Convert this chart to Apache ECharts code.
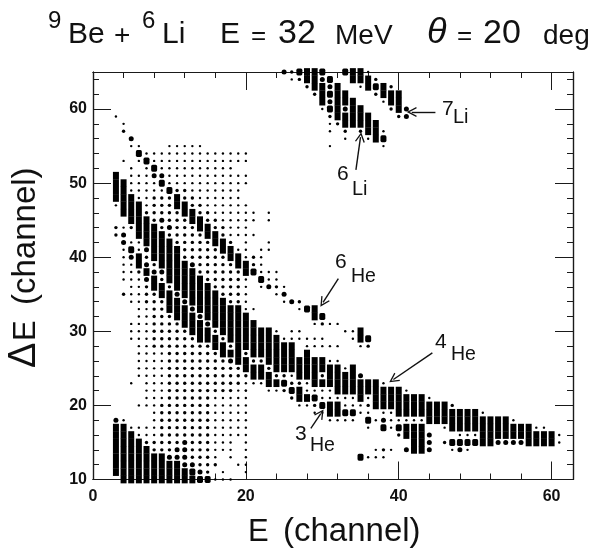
<!DOCTYPE html>
<html><head><meta charset="utf-8">
<style>html,body{margin:0;padding:0;background:#fff}#c{width:593px;height:551px}</style>
<script src="https://cdn.jsdelivr.net/npm/echarts@6/dist/echarts.min.js"></script>
</head><body><div id="c"></div>
<script>
// Channel columns (E) and, for each, runs of cells "topΔE:codes" reading downward.
// Code = count class: 1 tiny … 5 full cell.
const channelE = [3,4,5,6,7,8,9,10,11,12,13,14,15,16,17,18,19,20,21,22,23,24,25,26,27,28,29,30,31,32,33,34,35,36,37,38,39,40,41,42,43,44,45,46,47,48,49,50,51,52,53,54,55,56,57,58,59,60,61];
const cellRuns = [
"59:1 51:5555 47:1 44:22 18:3 17:5555555",
"58:1 57:2 53:1 50:55555 44:1 43:33 41:1 40:1 39:1 38:11 35:2 18:1 17:55555555",
"56:3 55:1 52:1111 48:5555 44:2 42:1 41:43 39:111111 31:111 23:1 17:1 16:5555555",
"55:1 54:4 53:1 51:111 48:1 47:55555 42:11 40:55 38:2 37:11111111111111 20:1 17:11 15:555555",
"54:1 53:4 52:1111112 45:5555 41:323 38:5 37:3 36:222 33:11111111111111 17:112 14:55555",
"54:11 52:43 50:112222 44:55555 39:23 37:55 35:22 33:222222 27:111111111 18:11122 13:5555",
"54:11 52:1 51:34 49:1 48:2223 44:2 43:55555 38:32 36:55 34:2222222 27:1111111 20:2222222 13:5555",
"55:1 54:111 51:1 50:1 49:4 48:222 45:232 42:555555 36:2 35:555 32:2222 28:222222222 19:222222 13:3 12:555",
"55:1 54:111112 48:55 46:22222 41:555555 35:3 34:555 31:222222222222 19:222223 13:3 12:555",
"55:1 54:1111122 47:55 45:222222 39:55555 34:3 33:555 30:2222222222 20:22222333 12:3 11:55",
"55:1 54:11111122 46:55 44:222223 38:55555 33:3 32:555 29:222222222 20:222222223 11:4 10:5",
"55:1 54:111111122 45:55 43:222222 37:55555 32:3 31:555 28:22222222 20:222222222 11:3 10:4",
"54:1111111122 44:55 42:222222 36:55555 31:3 30:55 28:2222222 21:2222222222 11:2 10:4",
"54:11111111122 43:55 41:222222 35:55555 30:2 29:55 27:222222 21:111111111 12:2 10:1",
"54:111111111122 42:55 40:222222 34:55555 29:2 28:55 26:22222 21:11111111 11:1 10:1",
"54:1111111111112 41:55 39:222222 33:55555 28:2 27:5 26:3 25:2222 21:111111111 10:1",
"54:11 51:1111111 44:11 41:1 40:55 38:22222 33:555555 27:55 25:222 22:1111111 12:1",
"54:11 51:11 47:1 46:11 44:11111 39:55 37:1111 33:1 32:55555 27:2 26:55 24:2 23:11 22:1111111111 12:1 11:1",
"46:11 43:1 40:22 38:4 33:1 31:55555 26:2 25:55 23:1",
"41:1 40:11 38:1 37:4 36:1 30:5555 26:2 25:55 23:1",
"46:11 42:1 41:1 38:1 37:1 36:3 30:55555 25:2 24:55 22:1",
"38:1 37:1 36:2 35:1 30:1 29:55555 24:2 23:5 22:1",
"65:3 36:1 35:3 34:1 29:1 28:5555 24:2 23:4 22:2",
"65:2 64:1 34:3 30:1 29:1 28:5555 24:1 23:2 22:4 21:2",
"65:4 64:2 34:2 33:1 30:1 29:1 26:555 23:2 22:55 20:1",
"65:55 63:2 33:4 29:1 28:1 27:5555 23:1 22:1 21:5 20:1",
"65:555 62:2 33:55 31:1 29:1 28:1 26:5555 22:1 21:4 20:2 19:1",
"65:4 64:3 63:555 60:1 32:4 31:2 29:1 28:1 26:55 24:2 23:5 22:1 21:1 20:4 19:1",
"64:4 63:3 62:4 61:3 60:4 59:2 58:1 57:1 55:1 31:1 28:1 26:1 25:555 22:1 21:1 20:55 18:1",
"63:55555 58:2 31:1 28:1 26:1 25:5555 21:1 20:55 18:1",
"65:4 62:55 60:3 59:55 57:2 56:1 30:1 25:1 24:555 21:1 20:1 19:4 18:1",
"65:55 61:5555 30:1 29:1 25:5555 21:1 20:1 19:4 18:1",
"65:55 63:1 60:555 57:2 30:55 28:1 24:3 23:555 20:1 19:1 13:4",
"65:1 64:55 59:555 56:1 29:4 28:2 23:55 21:1 20:2 19:1 18:4 17:1 13:1",
"64:2 63:4 62:2 58:555 23:5555 18:1 14:1 13:1",
"63:55 61:1 57:1 56:4 55:1 23:1 22:555 19:1 18:3 17:4 14:2 13:1",
"63:2 62:55 60:2 22:555 19:1 18:1 17:1 14:1",
"62:555 59:2 22:5555 18:1 17:4 16:2",
"60:3 59:3 22:1 21:555 18:1 17:55 14:3",
"21:555 18:1 17:5555",
"21:555 18:1 17:5555",
"21:1 20:555 16:333",
"20:555",
"20:555 17:1 15:2",
"20:2 19:555 15:4 14:1",
"19:555 16:1 15:4 14:3",
"19:555 16:1 15:4 14:1",
"19:555 16:1 15:4",
"19:1 18:5555",
"18:5555",
"18:555 15:3",
"18:555 15:3",
"18:1 17:55 15:3",
"17:55 15:3",
"17:555",
"17:1 16:55",
"17:1 16:55",
"16:55",
"16:1 15:1"
];
const xMajorTicks = [0,20,40,60];
const xMinorTicks = [4,8,12,16,24,28,32,36,44,48,52,56];
const yMajorTicks = [10,20,30,40,50,60];
const yMinorTicks = [12,14,16,18,22,24,26,28,32,34,36,38,42,44,46,48,52,54,56,58,62,64];
const arrows = [ // [from E, from ΔE, to E, to ΔE]
  [44.8,59.6,41.7,59.6],
  [34.4,51.8,35.0,56.2],
  [32.1,37.1,30.1,33.9],
  [44.4,27.1,39.3,23.5],
  [28.5,16.9,29.8,18.9]
];

const cells = [];
channelE.forEach((e,i)=>{
  cellRuns[i].split(' ').forEach(run=>{
    const [top,codes]=run.split(':');
    [...codes].forEach((c,k)=>cells.push([e,+top-k,+c]));
  });
});
const sizeOf = {1:[2.4,2.4],2:[3.4,3.4],3:[5,5],4:[6,7],5:[6,7.7]};
const shapeOf = {1:'circle',2:'circle',3:'circle',4:'roundRect',5:'rect'};

function xAxisCfg(pos,ticks,len,labels){return {type:'value',gridIndex:0,position:pos,min:0,max:62.8,splitLine:{show:false},
  axisLine:{show:true,onZero:false,lineStyle:{color:'#1a1a1a',width:1.2}},
  axisTick:{show:true,inside:true,length:len,customValues:ticks,lineStyle:{color:'#1a1a1a',width:1}},
  axisLabel:labels?{show:true,customValues:ticks,margin:9,fontFamily:'Liberation Sans',fontWeight:'bold',fontSize:16,color:'#111'}:{show:false}};}
function yAxisCfg(pos,ticks,len,labels){return {type:'value',gridIndex:0,position:pos,min:10,max:65,splitLine:{show:false},
  axisLine:{show:true,onZero:false,lineStyle:{color:'#1a1a1a',width:1.2}},
  axisTick:{show:true,inside:true,length:len,customValues:ticks,lineStyle:{color:'#1a1a1a',width:1}},
  axisLabel:labels?{show:true,customValues:ticks,margin:6,fontFamily:'Liberation Sans',fontWeight:'bold',fontSize:16,color:'#111'}:{show:false}};}

const FONT='"Liberation Sans"';
function txt(s,x,base,size,extra){
  return {type:'text',silent:true,x:x,y:base,rotation:(extra&&extra.rotation)||0,
    style:{text:s,x:0,y:-0.86*size,fill:'#111',font:(extra&&extra.italic?'italic ':'')+size+'px '+FONT,textAlign:'left'}};
}
const R=Math.PI/2;
const texts=[
 txt('9',48,30,24),txt('Be',68,46,30),txt('+',114,46,28),txt('6',142,30,24),txt('Li',162,46,30),
 txt('E',220,46,30),txt('=',251,46,26),txt('32',278,46,34),txt('MeV',335,46,28),
 txt('θ',427,46,36,{italic:true}),txt('=',457,46,26),txt('20',483,46,34),txt('deg',543,46,28),
 txt('E',248,544,31),txt('(channel)',283,544,33),
 txt('Δ',38,368,38,{rotation:R}),txt('E',38,341,31,{rotation:R}),txt('(channel)',38,305,33,{rotation:R}),
 txt('7',442,117,21),txt('Li',453,125,20),
 txt('6',337,182,21),txt('Li',352,197,20),
 txt('6',335,270,21),txt('He',351,283,19.5),
 txt('4',435,350,21),txt('He',451,361,19.5),
 txt('3',295,442,21),txt('He',310,452,19.5)
];
const head='path://M5 0 L10 11 L8.8 11.6 L5 3.2 L1.2 11.6 L0 11 Z';
const chart=echarts.init(document.getElementById('c'),null,{renderer:'canvas'});
chart.setOption({
  animation:false,backgroundColor:'#fff',
  grid:{left:93,right:20,top:72,bottom:71.5},
  xAxis:[xAxisCfg('bottom',xMajorTicks,18,true),xAxisCfg('bottom',xMinorTicks,6,false),xAxisCfg('top',xMajorTicks.slice(1),18,false),xAxisCfg('top',xMinorTicks,6,false)],
  yAxis:[yAxisCfg('left',yMajorTicks,18,true),yAxisCfg('left',yMinorTicks,6,false),yAxisCfg('right',yMajorTicks.slice(1),18,false),yAxisCfg('right',yMinorTicks,6,false)],
  series:[{
    type:'scatter',clip:false,data:cells,
    symbol:(v)=>shapeOf[v[2]],
    symbolSize:(v)=>sizeOf[v[2]],
    itemStyle:{color:'#000',opacity:1},silent:true,
    markLine:{silent:true,animation:false,symbol:['none',head],symbolSize:[10,10],
      lineStyle:{color:'#111',width:1.4,type:'solid'},label:{show:false},
      data:arrows.map(a=>[{coord:[a[0],a[1]]},{coord:[a[2],a[3]]}])}
  }],
  graphic:texts
});
</script></body></html>
